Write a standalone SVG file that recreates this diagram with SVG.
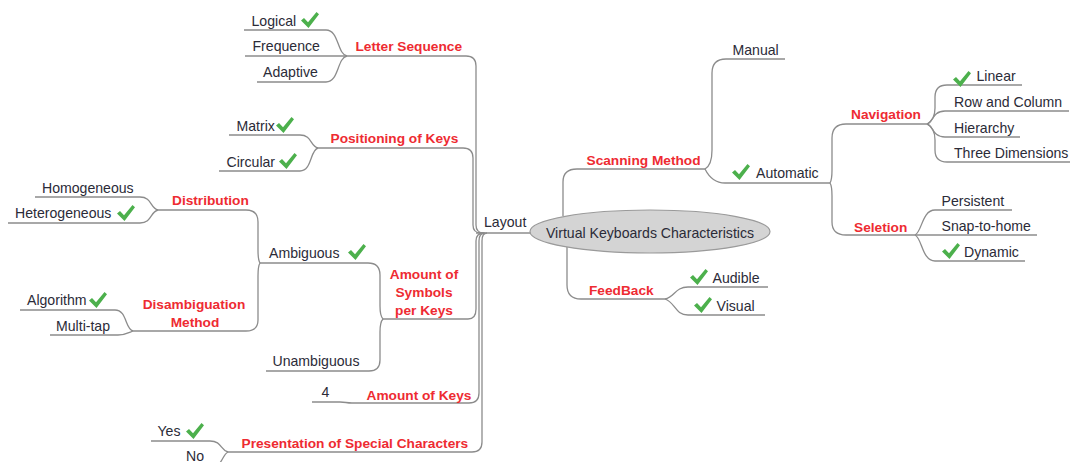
<svg xmlns="http://www.w3.org/2000/svg" width="1072" height="462" viewBox="0 0 1072 462">
<defs>
<style>
text{font-family:"Liberation Sans",Arial,sans-serif;font-size:14.1px;fill:#2b2b38}
text.r{fill:#ee2b32;font-weight:bold;font-size:13.7px}
text.m{text-anchor:middle}
#edges path{fill:none;stroke:#8c8c8c;stroke-width:1.3}
.ck{fill:#4cb04c}
</style>
<path id="tick" class="ck" d="M0,8.5 L3,6 L7,10.2 L15.5,0 L18,2.2 L7.5,16 Z"/>
</defs>
<rect width="1072" height="462" fill="#ffffff"/>
<g id="edges">
<path d="M476,233 H531"/>
<path d="M347,56 H466 Q476,56 476,66 V225 Q476,233 484,233"/>
<path d="M318,148 H463 Q473,148 473,158 V225 Q473,233 481,233"/>
<path d="M383,319 H468 Q476,319 476,309 V241 Q476,233 484,233"/>
<path d="M352,403 H469 Q479,403 479,393 V241 Q479,233 485,233"/>
<path d="M228,452 H472 Q482,452 482,442 V241 Q482,233 487,233"/>
<path d="M347,56 C337,54 339,30 326,30 H244"/>
<path d="M347,56 H245"/>
<path d="M347,56 C337,58 339,82 326,82 H257"/>
<path d="M318,148 C310,146 312,135 300,135 H229"/>
<path d="M318,148 C310,150 312,171 300,171 H219"/>
<path d="M383,319 Q380,316 380,306 V275 Q380,263 368,263 H260"/>
<path d="M383,319 Q380,322 380,332 V360 Q380,371 369,371 H266"/>
<path d="M260,263 Q258,260 258,250 V222 Q258,210 246,210 H158"/>
<path d="M260,263 Q258,266 258,276 V320 Q258,331 246,331 H133"/>
<path d="M158,210 C150,208 152,197 140,197 H35"/>
<path d="M158,210 C150,212 152,223 140,223 H8"/>
<path d="M133,331 C125,329 127,310 115,310 H20"/>
<path d="M133,331 C128,333 125,335 118,335 H50"/>
<path d="M352,403 C346,403 346,402 340,402 H312"/>
<path d="M228,452 C220,450 222,441 210,441 H151"/>
<path d="M228,452 C222,455 222,467 212,467"/>
<path d="M563,216 V182 Q563,169 577,169 H705"/>
<path d="M705,169 Q712,165 712,150 V73 Q712,59 726,59 H785"/>
<path d="M705,169 Q712,183 725,183 H830"/>
<path d="M830,183 Q832,180 832,170 V138 Q832,124 846,124 H927"/>
<path d="M830,183 Q832,186 832,196 V222 Q832,235 846,235 H915"/>
<path d="M927,124 Q935,120 935,108 V97 Q935,85 947,85 H1022"/>
<path d="M927,124 C933,123 932,111 945,111 H1069"/>
<path d="M927,124 C933,125 932,137 945,137 H1020"/>
<path d="M927,124 Q935,128 935,140 V150 Q935,162 947,162 H1070"/>
<path d="M915,235 C922,232 922,210 935,210 H1012"/>
<path d="M915,235 H1037"/>
<path d="M915,235 C922,238 922,261 935,261 H1025"/>
<path d="M567,247 V285 Q567,299 581,299 H665"/>
<path d="M665,299 C675,297 675,287 688,287 H768"/>
<path d="M665,299 C675,302 675,315 688,315 H765"/>
</g>
<g id="center">
<ellipse cx="650" cy="231.5" rx="120" ry="21.5" fill="#d4d4d4" stroke="#9a9a9a" stroke-width="1.2"/>
<text class="m" x="650" y="237.5">Virtual Keyboards Characteristics</text>
</g>
<g id="layout"><text x="484" y="227">Layout</text></g>
<g id="letter-sequence"><text class="r" x="355.5" y="51">Letter Sequence</text></g>
<g id="logical"><text x="251.5" y="26">Logical</text><use href="#tick" x="301" y="12"/></g>
<g id="frequence"><text x="252.5" y="51">Frequence</text></g>
<g id="adaptive"><text x="263" y="77">Adaptive</text></g>
<g id="positioning"><text class="r" x="330.5" y="143">Positioning of Keys</text></g>
<g id="matrix"><text x="236.5" y="131">Matrix</text><use href="#tick" x="276" y="117"/></g>
<g id="circular"><text x="226.5" y="167">Circular</text><use href="#tick" x="279" y="153"/></g>
<g id="amount-symbols"><text class="r m" x="424" y="279">Amount of</text><text class="r m" x="424" y="297">Symbols</text><text class="r m" x="424" y="315">per Keys</text></g>
<g id="ambiguous"><text x="269" y="258">Ambiguous</text><use href="#tick" x="348" y="244"/></g>
<g id="unambiguous"><text x="272.5" y="366">Unambiguous</text></g>
<g id="distribution"><text class="r" x="172" y="205">Distribution</text></g>
<g id="homogeneous"><text x="42" y="193">Homogeneous</text></g>
<g id="heterogeneous"><text x="15" y="218">Heterogeneous</text><use href="#tick" x="117" y="205"/></g>
<g id="disambiguation"><text class="r m" x="194" y="309">Disambiguation</text><text class="r m" x="195" y="327">Method</text></g>
<g id="algorithm"><text x="27" y="305">Algorithm</text><use href="#tick" x="89" y="292"/></g>
<g id="multitap"><text x="56" y="331">Multi-tap</text></g>
<g id="amount-keys"><text class="r" x="366.5" y="399.5">Amount of Keys</text></g>
<g id="four"><text x="321.5" y="397">4</text></g>
<g id="presentation"><text class="r" x="241.5" y="448">Presentation of Special Characters</text></g>
<g id="yes"><text x="157.5" y="436">Yes</text><use href="#tick" x="186" y="423"/></g>
<g id="no"><text x="186" y="461">No</text></g>
<g id="scanning"><text class="r" x="586.5" y="165">Scanning Method</text></g>
<g id="manual"><text x="732.5" y="55">Manual</text></g>
<g id="automatic"><text x="756" y="178">Automatic</text><use href="#tick" x="732" y="164"/></g>
<g id="navigation"><text class="r" x="851" y="119">Navigation</text></g>
<g id="linear"><text x="976.5" y="81">Linear</text><use href="#tick" x="953" y="71"/></g>
<g id="rowcol"><text x="954" y="106.5">Row and Column</text></g>
<g id="hierarchy"><text x="954" y="132.5">Hierarchy</text></g>
<g id="threed"><text x="954" y="157.5">Three Dimensions</text></g>
<g id="seletion"><text class="r" x="854" y="231.5">Seletion</text></g>
<g id="persistent"><text x="941.5" y="206">Persistent</text></g>
<g id="snap"><text x="941.5" y="230.5">Snap-to-home</text></g>
<g id="dynamic"><text x="964" y="256.5">Dynamic</text><use href="#tick" x="942" y="243"/></g>
<g id="feedback"><text class="r" x="589" y="295">FeedBack</text></g>
<g id="audible"><text x="712.5" y="282.5">Audible</text><use href="#tick" x="690" y="269"/></g>
<g id="visual"><text x="716.5" y="311">Visual</text><use href="#tick" x="694" y="297"/></g>
</svg>
